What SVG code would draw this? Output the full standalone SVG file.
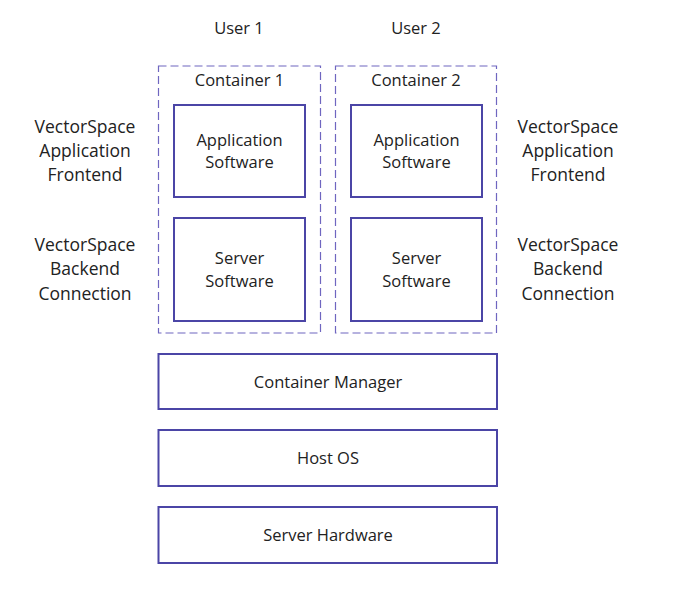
<svg xmlns="http://www.w3.org/2000/svg" width="694" height="593" viewBox="0 0 694 593">
<style>
text{font-family:"Open Sans","Noto Sans","DejaVu Sans",sans-serif;font-size:16.5px;fill:#222;text-anchor:middle}
.side{font-size:17.5px}
.box{fill:#fff;stroke:#4b45a6;stroke-width:2}
.cont{fill:none;stroke:#6f66c0;stroke-width:1.2;stroke-dasharray:8 4}
</style>
<rect width="694" height="593" fill="#fff"/>
<g id="labels">
<text x="239" y="34">User 1</text>
<text x="416" y="34">User 2</text>
<text class="side" x="85" y="133">VectorSpace</text>
<text class="side" x="85" y="157">Application</text>
<text class="side" x="85" y="181">Frontend</text>
<text class="side" x="85" y="251">VectorSpace</text>
<text class="side" x="85" y="275">Backend</text>
<text class="side" x="85" y="300">Connection</text>
<text class="side" x="568" y="133">VectorSpace</text>
<text class="side" x="568" y="157">Application</text>
<text class="side" x="568" y="181">Frontend</text>
<text class="side" x="568" y="251">VectorSpace</text>
<text class="side" x="568" y="275">Backend</text>
<text class="side" x="568" y="300">Connection</text>
</g>
<g id="container1">
<rect class="cont" x="158.5" y="66" width="162" height="267"/>
<text x="239.5" y="86">Container 1</text>
</g>
<g id="container2">
<rect class="cont" x="335.5" y="66" width="161" height="267"/>
<text x="416" y="86">Container 2</text>
</g>
<g id="app1">
<rect class="box" x="174" y="105" width="131" height="92"/>
<text x="239.5" y="146">Application</text>
<text x="239.5" y="168">Software</text>
</g>
<g id="server1">
<rect class="box" x="174" y="218" width="131" height="103"/>
<text x="239.5" y="264">Server</text>
<text x="239.5" y="287">Software</text>
</g>
<g id="app2">
<rect class="box" x="351" y="105" width="131" height="92"/>
<text x="416.5" y="146">Application</text>
<text x="416.5" y="168">Software</text>
</g>
<g id="server2">
<rect class="box" x="351" y="218" width="131" height="103"/>
<text x="416.5" y="264">Server</text>
<text x="416.5" y="287">Software</text>
</g>
<g id="manager">
<rect class="box" x="158.5" y="354" width="338.5" height="55"/>
<text x="328" y="388">Container Manager</text>
</g>
<g id="hostos">
<rect class="box" x="158.5" y="430" width="338.5" height="56"/>
<text x="328" y="464">Host OS</text>
</g>
<g id="hardware">
<rect class="box" x="158.5" y="507" width="338.5" height="56"/>
<text x="328" y="541">Server Hardware</text>
</g>
<g id="connectors"></g>
</svg>
